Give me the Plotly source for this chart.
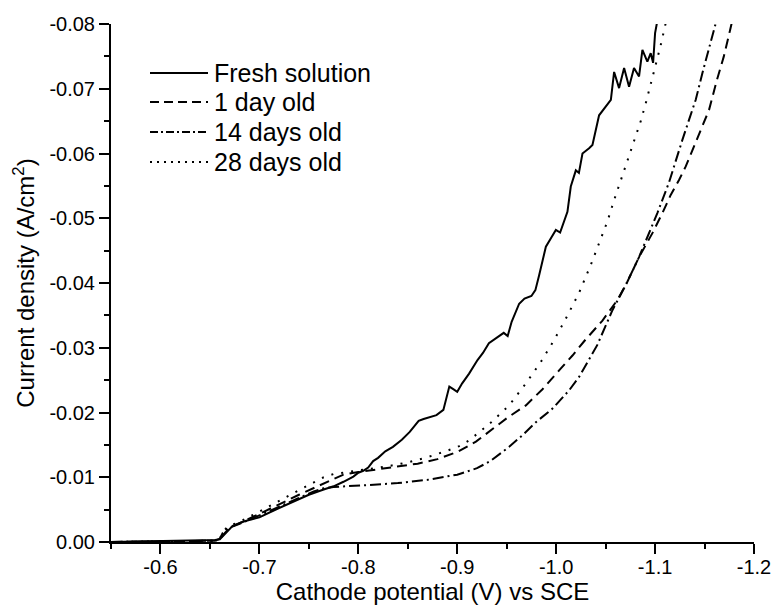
import plotly.graph_objects as go

# ---- data (potential V vs SCE, current density A/cm^2) ----
fresh_v = [-0.55, -0.60, -0.64, -0.655, -0.660, -0.665, -0.673, -0.685, -0.70, -0.715, -0.73, -0.75,
           -0.765, -0.775, -0.785, -0.795, -0.80, -0.805, -0.81, -0.815, -0.82, -0.8273, -0.835,
           -0.844, -0.852, -0.861, -0.866, -0.872, -0.879, -0.886, -0.889, -0.892, -0.896, -0.900,
           -0.905, -0.912, -0.9205, -0.926, -0.932, -0.940, -0.947, -0.951, -0.955, -0.9626,
           -0.968, -0.975, -0.979, -0.9828, -0.9896, -0.995, -0.9997, -1.004, -1.0114, -1.0148,
           -1.0199, -1.023, -1.0266, -1.0333, -1.0367, -1.0434, -1.0553, -1.0586, -1.0636,
           -1.0687, -1.0737, -1.0787, -1.0838, -1.0872, -1.0922, -1.0956, -1.098, -1.100, -1.1023]
fresh_j = [0.0, -0.0001, -0.0002, -0.0003, -0.0004, -0.0012, -0.0025, -0.0032, -0.0038, -0.0049,
           -0.0059, -0.0073, -0.0081, -0.0086, -0.0093, -0.0101, -0.0107, -0.0110, -0.0115,
           -0.0125, -0.0130, -0.0140, -0.0147, -0.0158, -0.0170, -0.0187, -0.0190, -0.0193,
           -0.0196, -0.0204, -0.0220, -0.0240, -0.0236, -0.0232, -0.0245, -0.0260, -0.0281,
           -0.0292, -0.0307, -0.0316, -0.0323, -0.0318, -0.0340, -0.0368, -0.0376, -0.0380,
           -0.0389, -0.0412, -0.0456, -0.0470, -0.0482, -0.0478, -0.0510, -0.0549, -0.0574,
           -0.0570, -0.0600, -0.0608, -0.0613, -0.0659, -0.0683, -0.0726, -0.0701, -0.0732,
           -0.0703, -0.0732, -0.0719, -0.0760, -0.0742, -0.0755, -0.0740, -0.0786, -0.0805]

day1_v = [-0.55, -0.62, -0.655, -0.660, -0.664, -0.670, -0.68, -0.70, -0.72, -0.74, -0.76, -0.775,
          -0.785, -0.80, -0.82, -0.84, -0.86, -0.88, -0.90, -0.9189, -0.9357, -0.9508, -0.9694,
          -0.9862, -1.003, -1.0165, -1.0283, -1.0468, -1.062, -1.072, -1.0838, -1.0973, -1.1074,
          -1.1158, -1.1242, -1.131, -1.1377, -1.1461, -1.1545, -1.1626, -1.1695, -1.1759, -1.178]
day1_j = [0.0, -0.0001, -0.0002, -0.0004, -0.0012, -0.0022, -0.0029, -0.0043, -0.0058, -0.0073,
          -0.0087, -0.0098, -0.0104, -0.0108, -0.0112, -0.0116, -0.0121, -0.0128, -0.0139,
          -0.0155, -0.0174, -0.0192, -0.0211, -0.0236, -0.0265, -0.0288, -0.0310, -0.0342,
          -0.0374, -0.0402, -0.0440, -0.0477, -0.0508, -0.0536, -0.0559, -0.0580, -0.0605,
          -0.0636, -0.0667, -0.0714, -0.0750, -0.0791, -0.0805]

day14_v = [-0.55, -0.62, -0.655, -0.660, -0.663, -0.668, -0.68, -0.70, -0.72, -0.74, -0.755, -0.765,
           -0.775, -0.79, -0.81, -0.84, -0.87, -0.90, -0.92, -0.9335, -0.9525, -0.966, -0.9795,
           -0.9963, -1.013, -1.0232, -1.0415, -1.0569, -1.0704, -1.0838, -1.0922, -1.1023, -1.114,
           -1.1209, -1.1276, -1.1343, -1.1411, -1.1478, -1.1545, -1.1596, -1.162]
day14_j = [0.0, -0.0001, -0.0002, -0.0005, -0.0014, -0.0021, -0.0028, -0.0041, -0.0055, -0.0068,
           -0.0078, -0.0083, -0.0085, -0.0086, -0.0088, -0.0091, -0.0096, -0.0104, -0.0114,
           -0.0125, -0.0147, -0.0165, -0.0185, -0.0206, -0.0234, -0.0255, -0.0304, -0.0358,
           -0.0397, -0.0440, -0.0471, -0.0508, -0.0555, -0.0590, -0.0621, -0.0652, -0.0683,
           -0.0724, -0.0763, -0.0791, -0.0805]

day28_v = [-0.55, -0.62, -0.655, -0.660, -0.663, -0.668, -0.68, -0.70, -0.72, -0.74, -0.755, -0.765,
           -0.775, -0.79, -0.81, -0.83, -0.85, -0.87, -0.89, -0.902, -0.912, -0.9323, -0.9525,
           -0.9694, -0.9845, -0.998, -1.0098, -1.0232, -1.035, -1.0434, -1.0518, -1.0586, -1.0653,
           -1.072, -1.079, -1.0855, -1.091, -1.096, -1.101, -1.1055, -1.1104, -1.112]
day28_j = [0.0, -0.0001, -0.0002, -0.0005, -0.0015, -0.0024, -0.0031, -0.0047, -0.0064, -0.0080,
           -0.0092, -0.0100, -0.0105, -0.0108, -0.0112, -0.0117, -0.0123, -0.0131, -0.0141,
           -0.0148, -0.0157, -0.0182, -0.0211, -0.0245, -0.0278, -0.0312, -0.0345, -0.0385,
           -0.0428, -0.0461, -0.0495, -0.0528, -0.0559, -0.0590, -0.0620, -0.0650, -0.0680,
           -0.0710, -0.0738, -0.0766, -0.0799, -0.0810]

series_names = ["Fresh solution", "1 day old", "14 days old", "28 days old"]
series_dashes = ["solid", "10px,6px", "11px,4px,2px,4px", "2px,8px"]
legend_dashes = ["solid", "9px,5px", "8px,3px,2px,3px", "2px,5px"]

x_tickvals = [-0.6, -0.7, -0.8, -0.9, -1.0, -1.1, -1.2]
x_ticktext = ["-0.6", "-0.7", "-0.8", "-0.9", "-1.0", "-1.1", "-1.2"]
y_tickvals = [0.0, -0.01, -0.02, -0.03, -0.04, -0.05, -0.06, -0.07, -0.08]
y_ticktext = ["0.00", "-0.01", "-0.02", "-0.03", "-0.04", "-0.05", "-0.06", "-0.07", "-0.08"]

FONT = "Liberation Sans, Arial, sans-serif"
W, H = 772, 606
ML, MR, MT, MB = 111, 18, 24, 64
PW, PH = W - ML - MR, H - MT - MB


def px_to_paper_x(px):
    return (px - ML) / PW


def px_to_paper_y(py):
    return 1 - (py - MT) / PH


fig = go.Figure()
for xv, yv, dash, name in zip([fresh_v, day1_v, day14_v, day28_v],
                              [fresh_j, day1_j, day14_j, day28_j],
                              series_dashes, series_names):
    fig.add_trace(go.Scatter(x=xv, y=yv, mode="lines", name=name, showlegend=False,
                             line=dict(color="black", width=2, dash=dash)))

# legend drawn as layout decoration (long line samples, tight row spacing as in the original)
legend_rows_py = [73, 102, 132, 162]
shapes, annotations = [], []
for name, dash, py in zip(series_names, legend_dashes, legend_rows_py):
    yp = px_to_paper_y(py)
    shapes.append(dict(type="line", xref="paper", yref="paper",
                       x0=px_to_paper_x(150), x1=px_to_paper_x(208), y0=yp, y1=yp,
                       line=dict(color="black", width=2, dash=dash)))
    annotations.append(dict(text=name, xref="paper", yref="paper", x=px_to_paper_x(212), y=yp,
                            xanchor="left", yanchor="middle", showarrow=False,
                            font=dict(size=25, family=FONT, color="black")))

common_x = dict(range=[-0.55, -1.2], tickvals=x_tickvals, ticktext=x_ticktext,
                showline=True, linewidth=2, linecolor="black", showgrid=False, zeroline=False,
                tickwidth=2, tickcolor="black", ticklen=10)
common_y = dict(range=[0.0, -0.08], tickvals=y_tickvals, ticktext=y_ticktext,
                showline=True, linewidth=2, linecolor="black", showgrid=False, zeroline=False,
                tickwidth=2, tickcolor="black", ticklen=10)

fig.update_layout(
    width=W, height=H,
    margin=dict(l=ML, r=MR, t=MT, b=MB, autoexpand=False),
    paper_bgcolor="white", plot_bgcolor="white",
    font=dict(family=FONT, color="black", size=20),
    showlegend=False,
    shapes=shapes, annotations=annotations,
    xaxis=dict(**common_x, ticks="outside",
               tickfont=dict(size=20), ticklabelstandoff=-4,
               minor=dict(tickmode="linear", tick0=-0.55, dtick=0.05, ticks="outside",
                          ticklen=5, tickwidth=2, tickcolor="black"),
               title=dict(text="Cathode potential (V) vs SCE", font=dict(size=24), standoff=5)),
    yaxis=dict(**common_y, ticks="outside",
               tickfont=dict(size=20),
               minor=dict(tickmode="linear", tick0=0, dtick=0.005, ticks="outside",
                          ticklen=5, tickwidth=2, tickcolor="black"),
               title=dict(text="Current density (A/cm<sup>2</sup>)", font=dict(size=24), standoff=8)),
    xaxis2=dict(**common_x, overlaying="x", side="top", ticks="inside", showticklabels=False,
                minor=dict(tickmode="linear", tick0=-0.55, dtick=0.05, ticks="inside",
                           ticklen=5, tickwidth=2, tickcolor="black")),
    yaxis2=dict(**common_y, overlaying="y", side="right", ticks="inside", showticklabels=False,
                minor=dict(tickmode="linear", tick0=0, dtick=0.005, ticks="inside",
                           ticklen=5, tickwidth=2, tickcolor="black")),
)

fig.write_html("out.html")
